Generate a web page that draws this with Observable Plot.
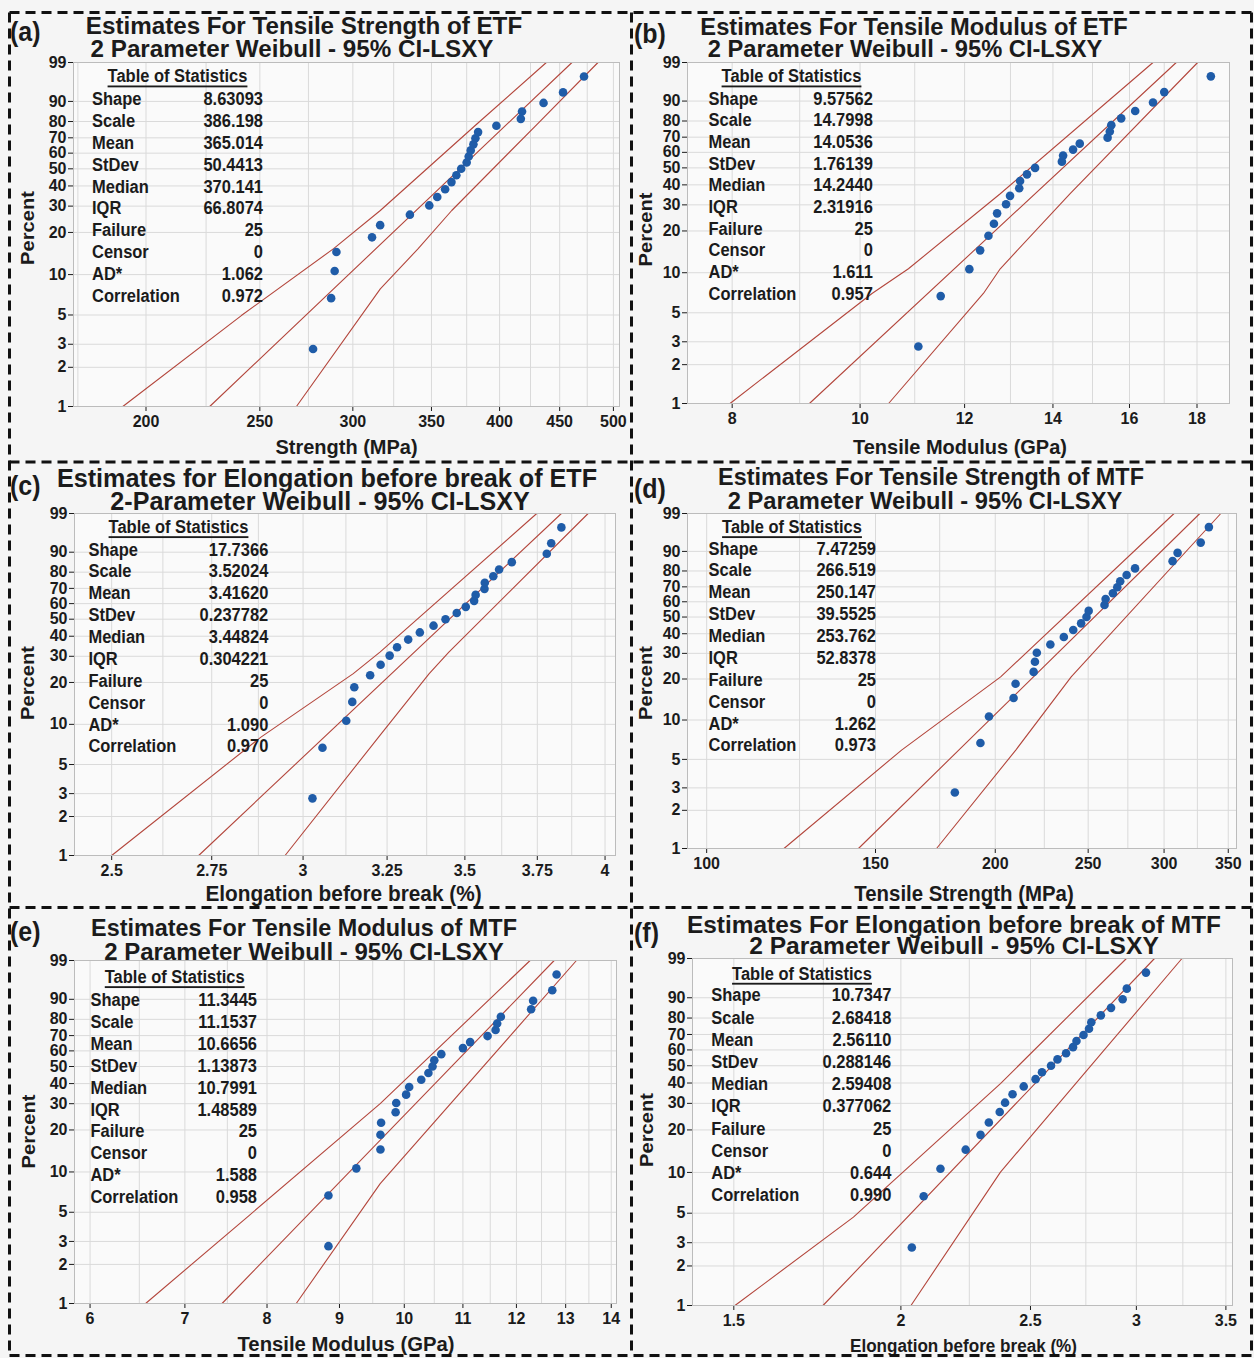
<!DOCTYPE html>
<html>
<head>
<meta charset="utf-8">
<script src="https://cdn.jsdelivr.net/npm/d3@7"></script>
<script src="https://cdn.jsdelivr.net/npm/@observablehq/plot@0.6"></script>
<style>
  html, body { margin: 0; padding: 0; background: #ffffff; }
  #fig { position: relative; width: 1254px; height: 1358px; overflow: hidden; background: #f5f5f5; }
</style>
</head>
<body>
<div id="fig"></div>
<script>
// ------------------------------------------------------------------ data
const percentRanks = [2.76, 6.69, 10.63, 14.57, 18.50, 22.44, 26.38, 30.31, 34.25, 38.19, 42.13, 46.06, 50.00,
                      53.94, 57.87, 61.81, 65.75, 69.69, 73.62, 77.56, 81.50, 85.43, 89.37, 93.31, 97.24];
const percentTicks = [1, 2, 3, 5, 10, 20, 30, 40, 50, 60, 70, 80, 90, 99];
const statLabels = ["Shape", "Scale", "Mean", "StDev", "Median", "IQR", "Failure", "Censor", "AD*", "Correlation"];

// (a) Tensile strength of ETF
const etfStrength = [277.5, 287.5, 289.5, 290.5, 311.5, 316.5, 335.5, 348.5, 354.0, 359.5, 364.0, 367.5, 371.0,
                     375.0, 376.5, 378.0, 380.0, 381.5, 383.5, 397.5, 417.0, 418.0, 436.0, 453.0, 472.0];
const etfStrengthFit = [[1, 226.6], [99, 461.0]];
const etfStrengthLow = [[1, 191.1], [4.95, 241.1], [15.4, 288.9], [28.1, 316.6], [78.7, 382.8], [99, 438.4]];
const etfStrengthHigh = [[1, 268.6], [7.85, 316.6], [15.4, 341.0], [28.1, 364.2], [78.7, 430.9], [99, 485.1]];
const etfStrengthStats = ["8.63093", "386.198", "365.014", "50.4413", "370.141", "66.8074", "25", "0", "1.062", "0.972"];
const etfStrengthTicks = [200, 250, 300, 350, 400, 450, 500];
const etfStrengthGrid = [175, 200, 225, 250, 275, 300, 325, 350, 375, 400, 425, 450, 475, 500];

// (b) Tensile modulus of ETF
const etfModulus = [11.07, 11.51, 12.10, 12.33, 12.51, 12.63, 12.70, 12.90, 12.99, 13.20, 13.22, 13.38, 13.57,
                    14.22, 14.25, 14.50, 14.67, 15.40, 15.46, 15.50, 15.77, 16.16, 16.67, 17.00, 18.44];
const etfModulusFit = [[1, 9.154], [99, 17.36]];
const etfModulusLow = [[1, 7.97], [7, 10.21], [10.7, 10.88], [35.3, 12.77], [99, 16.67]];
const etfModulusHigh = [[1, 10.51], [7, 12.40], [10.7, 12.77], [35.3, 14.42], [99, 18.02]];
const etfModulusStats = ["9.57562", "14.7998", "14.0536", "1.76139", "14.2440", "2.31916", "25", "0", "1.611", "0.957"];
const etfModulusTicks = [8, 10, 12, 14, 16, 18];
const etfModulusGrid = [8, 9, 10, 11, 12, 13, 14, 15, 16, 17, 18];

// (c) Elongation before break of ETF
const etfElong = [3.027, 3.056, 3.126, 3.144, 3.150, 3.198, 3.230, 3.258, 3.281, 3.316, 3.353, 3.397, 3.436,
                  3.473, 3.503, 3.531, 3.536, 3.566, 3.567, 3.596, 3.616, 3.660, 3.784, 3.800, 3.837];
const etfElongFit = [[1, 2.716], [99, 3.837]];
const etfElongLow = [[1, 2.50], [8.04, 2.882], [23, 3.147], [31.9, 3.228], [99, 3.748]];
const etfElongHigh = [[1, 2.949], [8.29, 3.228], [23, 3.383], [31.9, 3.447], [99, 3.936]];
const etfElongStats = ["17.7366", "3.52024", "3.41620", "0.237782", "3.44824", "0.304221", "25", "0", "1.090", "0.970"];
const etfElongTicks = [2.5, 2.75, 3, 3.25, 3.5, 3.75, 4];
const etfElongGrid = [2.5, 2.625, 2.75, 2.875, 3, 3.125, 3.25, 3.375, 3.5, 3.625, 3.75, 3.875, 4];

// (d) Tensile strength of MTF
const mtfStrength = [181.5, 193.0, 197.0, 209.0, 210.0, 219.3, 220.0, 221.0, 228.3, 235.8, 241.2, 245.8, 249.0,
                     250.3, 260.0, 260.7, 265.3, 268.1, 270.0, 274.2, 279.8, 306.2, 309.9, 327.6, 334.1];
const mtfStrengthFit = [[1, 144.0], [99, 326.9]];
const mtfStrengthLow = [[1, 120.4], [5.9, 159.7], [20.7, 202.6], [99, 307.3]];
const mtfStrengthHigh = [[1, 173.7], [5.9, 210.1], [20.7, 240.0], [99, 343.8]];
const mtfStrengthStats = ["7.47259", "266.519", "250.147", "39.5525", "253.762", "52.8378", "25", "0", "1.262", "0.973"];
const mtfStrengthTicks = [100, 150, 200, 250, 300, 350];
const mtfStrengthGrid = [100, 125, 150, 175, 200, 225, 250, 275, 300, 325, 350];

// (e) Tensile modulus of MTF
const mtfModulus = [8.84, 8.84, 9.25, 9.62, 9.62, 9.63, 9.86, 9.87, 10.03, 10.08, 10.28, 10.40, 10.47,
                    10.50, 10.62, 11.00, 11.13, 11.45, 11.60, 11.63, 11.70, 12.29, 12.33, 12.72, 12.81];
const mtfModulusFit = [[1, 7.436], [99, 12.76]];
const mtfModulusLow = [[1, 6.567], [4.74, 7.773], [30, 9.616], [99, 12.27]];
const mtfModulusHigh = [[1, 8.389], [8.2, 9.616], [99, 13.23]];
const mtfModulusStats = ["11.3445", "11.1537", "10.6656", "1.13873", "10.7991", "1.48589", "25", "0", "1.588", "0.958"];
const mtfModulusTicks = [6, 7, 8, 9, 10, 11, 12, 13, 14];
const mtfModulusGrid = [6, 6.5, 7, 7.5, 8, 8.5, 9, 9.5, 10, 10.5, 11, 11.5, 12, 12.5, 13, 13.5, 14];

// (f) Elongation before break of MTF
const mtfElong = [2.038, 2.080, 2.141, 2.236, 2.294, 2.327, 2.371, 2.393, 2.424, 2.471, 2.522, 2.550, 2.590,
                  2.619, 2.658, 2.690, 2.706, 2.739, 2.765, 2.776, 2.822, 2.872, 2.930, 2.951, 3.050];
const mtfElongFit = [[1, 1.749], [99, 3.095]];
const mtfElongLow = [[1, 1.503], [4.67, 1.843], [39.7, 2.374], [99, 2.949]];
const mtfElongHigh = [[1, 2.035], [10.06, 2.374], [99, 3.245]];
const mtfElongStats = ["10.7347", "2.68418", "2.56110", "0.288146", "2.59408", "0.377062", "25", "0", "0.644", "0.990"];
const mtfElongTicks = [1.5, 2, 2.5, 3, 3.5];
const mtfElongGrid = [1.5, 1.75, 2, 2.25, 2.5, 2.75, 3, 3.25, 3.5];

// ------------------------------------------------------------------ layout / style
const FONT = '"Liberation Sans", Arial, Helvetica, sans-serif';
const RED = "#b3463c";
const BLUE = "#1f5ca8";
const INK = "#1b1b1b";
const weib = p => Math.log(-Math.log(1 - p / 100));

const panels = [
  { letter: "(a)", letterPos: [10, 32], cellX: 0, cellW: 632, frame: [73, 62, 619, 406], xDomain: [173.5, 506],
    values: etfStrength, fit: etfStrengthFit, low: etfStrengthLow, high: etfStrengthHigh,
    xTicks: etfStrengthTicks, xGrid: etfStrengthGrid, stats: etfStrengthStats,
    titles: [["Estimates For Tensile Strength of ETF", 304, 25, 24.2], ["2 Parameter Weibull - 95% CI-LSXY", 292, 48.5, 24.2]],
    table: { lx: 92, rx: 263, y0: 98.3, step: 21.97, hx: 177.5, hy: 76 },
    xTitle: ["Strength (MPa)", 346.5, 447, 20], yTitle: [28, 228] },
  { letter: "(b)", letterPos: [634, 34], cellX: 632, cellW: 622, frame: [687, 62, 1229, 403], xDomain: [7.4, 19.05],
    values: etfModulus, fit: etfModulusFit, low: etfModulusLow, high: etfModulusHigh,
    xTicks: etfModulusTicks, xGrid: etfModulusGrid, stats: etfModulusStats,
    titles: [["Estimates For Tensile Modulus of ETF", 914, 26.5, 23.7], ["2 Parameter Weibull - 95% CI-LSXY", 905, 49, 23.7]],
    table: { lx: 708.5, rx: 872.8, y0: 98.3, step: 21.67, hx: 791.5, hy: 76 },
    xTitle: ["Tensile Modulus (GPa)", 960, 447, 20], yTitle: [646, 229.5] },
  { letter: "(c)", letterPos: [10, 486], cellX: 0, cellW: 632, frame: [74, 513, 615, 855], xDomain: [2.413, 4.04],
    values: etfElong, fit: etfElongFit, low: etfElongLow, high: etfElongHigh,
    xTicks: etfElongTicks, xGrid: etfElongGrid, stats: etfElongStats,
    titles: [["Estimates for Elongation before break of ETF", 327, 477.5, 25.2], ["2-Parameter Weibull - 95% CI-LSXY", 320, 500.5, 25.1]],
    table: { lx: 88.4, rx: 268.3, y0: 549.3, step: 21.86, hx: 178.5, hy: 526.7 },
    xTitle: ["Elongation before break (%)", 343.5, 893.3, 20.8], yTitle: [28, 683] },
  { letter: "(d)", letterPos: [634, 489], cellX: 632, cellW: 622, frame: [687, 513, 1236, 848], xDomain: [95.5, 357],
    values: mtfStrength, fit: mtfStrengthFit, low: mtfStrengthLow, high: mtfStrengthHigh,
    xTicks: mtfStrengthTicks, xGrid: mtfStrengthGrid, stats: mtfStrengthStats,
    titles: [["Estimates For Tensile Strength of MTF", 931, 476.5, 23.4], ["2 Parameter Weibull - 95% CI-LSXY", 925, 500.5, 23.7]],
    table: { lx: 708.5, rx: 876, y0: 548.3, step: 21.86, hx: 792, hy: 526.7 },
    xTitle: ["Tensile Strength (MPa)", 964, 893.3, 20.4], yTitle: [646, 683] },
  { letter: "(e)", letterPos: [10, 932], cellX: 0, cellW: 632, frame: [74, 960, 616, 1303], xDomain: [5.85, 14.12],
    values: mtfModulus, fit: mtfModulusFit, low: mtfModulusLow, high: mtfModulusHigh,
    xTicks: mtfModulusTicks, xGrid: mtfModulusGrid, stats: mtfModulusStats,
    titles: [["Estimates For Tensile Modulus of MTF", 304, 927.5, 23.4], ["2 Parameter Weibull - 95% CI-LSXY", 304, 951.5, 24.0]],
    table: { lx: 90.4, rx: 257, y0: 1000, step: 21.86, hx: 174.7, hy: 976.7 },
    xTitle: ["Tensile Modulus (GPa)", 346, 1343.5, 20.3], yTitle: [29, 1131.5] },
  { letter: "(f)", letterPos: [634, 933], cellX: 632, cellW: 622, frame: [692, 958, 1232, 1305], xDomain: [1.397, 3.54],
    values: mtfElong, fit: mtfElongFit, low: mtfElongLow, high: mtfElongHigh,
    xTicks: mtfElongTicks, xGrid: mtfElongGrid, stats: mtfElongStats,
    titles: [["Estimates For Elongation before break of MTF", 954, 924, 24.4], ["2 Parameter Weibull - 95% CI-LSXY", 954, 945.5, 24.6]],
    table: { lx: 711.3, rx: 891.3, y0: 995, step: 22.2, hx: 802, hy: 973.3 },
    xTitle: ["Elongation before break (%)", 963.5, 1345.5, 17.1], yTitle: [647, 1130] }
];

const fig = document.getElementById("fig");

// ------------------------------------------------------------------ plots
function yTickLabel(d) {
  const t = percentTicks.find(t => Math.abs(weib(t) - d) < 1e-9);
  return t === undefined ? "" : String(t);
}

for (const P of panels) {
  const [fx0, fy0, fx1, fy1] = P.frame;
  const left = P.cellX, top = fy0 - 10, width = P.cellW, height = (fy1 - fy0) + 50;
  const pts = P.values.map((x, i) => ({ x, p: percentRanks[i] }));
  const rows = arr => arr.map(([p, x]) => ({ p, x }));
  const yOf = d => weib(d.p);
  const svg = Plot.plot({
    width, height,
    marginLeft: fx0 - left, marginRight: left + width - fx1, marginTop: 10, marginBottom: 40,
    style: { background: "transparent", fontFamily: FONT, fontSize: "16px", fontWeight: "bold", color: INK, overflow: "visible" },
    x: { type: "log", domain: P.xDomain, ticks: P.xTicks, tickFormat: d => String(d), tickSize: 5, tickPadding: 4, label: null },
    y: { type: "linear", domain: [weib(1), weib(99)], ticks: percentTicks.map(weib), tickFormat: yTickLabel,
         tickSize: 5, tickPadding: 2, label: null },
    marks: [
      Plot.frame({ fill: "#fafafa", stroke: "none" }),
      Plot.ruleX(P.xGrid, { stroke: "#dadada", strokeWidth: 1 }),
      Plot.ruleY(percentTicks, { y: d => weib(d), stroke: "#dadada", strokeWidth: 1 }),
      Plot.line(rows(P.low), { x: "x", y: yOf, stroke: RED, strokeWidth: 1.1 }),
      Plot.line(rows(P.fit), { x: "x", y: yOf, stroke: RED, strokeWidth: 1.1 }),
      Plot.line(rows(P.high), { x: "x", y: yOf, stroke: RED, strokeWidth: 1.1 }),
      Plot.dot(pts, { x: "x", y: yOf, r: 4.3, fill: BLUE, stroke: "none" }),
      Plot.frame({ stroke: "#bcbcbc" })
    ]
  });
  svg.style.position = "absolute";
  svg.style.left = left + "px";
  svg.style.top = top + "px";
  svg.style.maxWidth = "none";
  fig.appendChild(svg);
}

// ------------------------------------------------------------------ overlay: texts and dashed frames
const ov = d3.select(fig).append("svg")
  .attr("width", 1254).attr("height", 1358)
  .style("position", "absolute").style("left", "0px").style("top", "0px")
  .style("pointer-events", "none");

function label(s, x, y, o) {
  const sx = o.sx || 1, sy = o.sy || 1.12;
  const t = ov.append("text")
    .attr("transform", `translate(${x},${y})` + (o.rotate ? ` rotate(${o.rotate})` : "") + ` scale(${sx},${sy})`)
    .attr("text-anchor", o.anchor || "start")
    .attr("dominant-baseline", "central")
    .attr("font-family", FONT)
    .attr("font-weight", o.weight || "bold")
    .attr("font-size", o.size)
    .attr("fill", INK)
    .text(s);
  if (o.underline) t.style("text-decoration", "underline");
  return t;
}

for (const P of panels) {
  label(P.letter, P.letterPos[0], P.letterPos[1], { size: 25 });
  for (const [s, cx, cy, fs] of P.titles) label(s, cx, cy, { size: fs, anchor: "middle", sy: 1.0 });
  const T = P.table;
  label("Table of Statistics", T.hx, T.hy, { size: 16.5, anchor: "middle", underline: true });
  statLabels.forEach((s, i) => {
    label(s, T.lx, T.y0 + i * T.step, { size: 16.5 });
    label(P.stats[i], T.rx, T.y0 + i * T.step, { size: 16.5, anchor: "end" });
  });
  const [xs, xcx, xcy, xfs] = P.xTitle;
  label(xs, xcx, xcy, { size: xfs, anchor: "middle", sy: 1.04 });
  label("Percent", P.yTitle[0], P.yTitle[1], { size: 18, anchor: "middle", rotate: -90, sx: 1.12, sy: 1 });
}

const dashes = [
  [9.5, 12.5, 1252, 12.5], [9.5, 1355.5, 1252, 1355.5], [9.5, 12.5, 9.5, 1355.5], [1251.5, 12.5, 1251.5, 1355.5],
  [631.5, 12.5, 631.5, 1355.5], [9.5, 462, 1252, 462], [9.5, 907.5, 1252, 907.5]
];
ov.selectAll("line.dash").data(dashes).join("line")
  .attr("x1", d => d[0]).attr("y1", d => d[1]).attr("x2", d => d[2]).attr("y2", d => d[3])
  .attr("stroke", "#111").attr("stroke-width", 3).attr("stroke-dasharray", "10 6");
</script>
</body>
</html>
